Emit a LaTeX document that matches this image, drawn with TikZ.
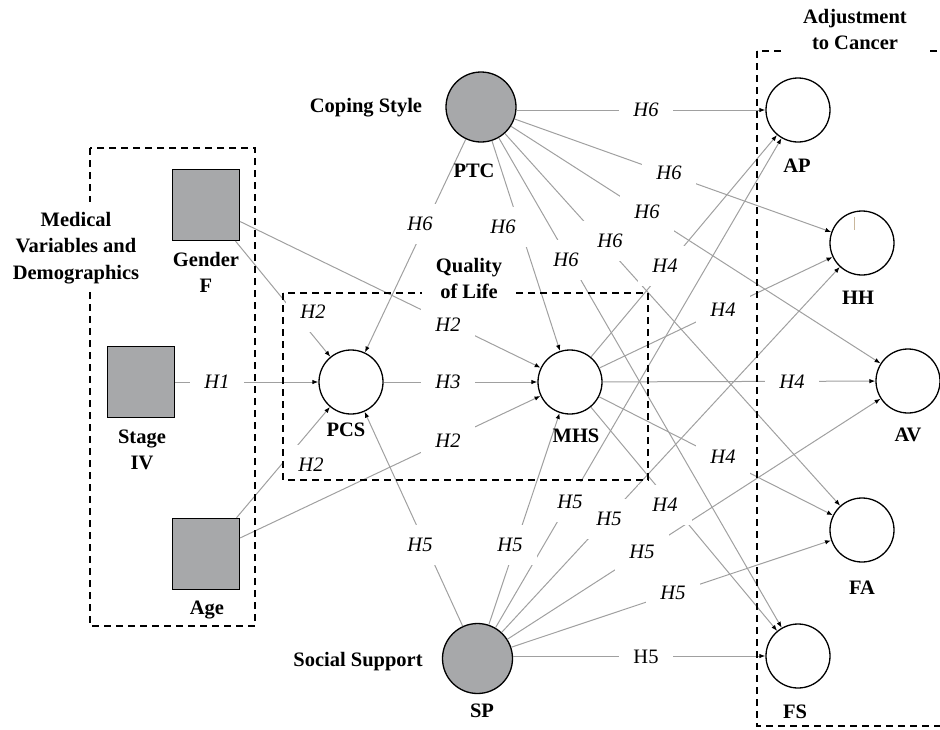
\documentclass[tikz,border=0pt]{standalone}
\usepackage{fontspec}
\setmainfont{Liberation Serif}
\usetikzlibrary{arrows.meta}
\definecolor{edgegray}{HTML}{A0A0A0}
\definecolor{nodefill}{HTML}{A7A8AA}
\definecolor{ticktan}{HTML}{C9B79C}
\newcommand{\mlines}[1]{\begin{tabular}[t]{@{}c@{}}#1\end{tabular}}
\begin{document}
\begin{tikzpicture}[x=1pt,y=-1pt,
  font=\fontsize{20.5}{26.5}\selectfont,
  latent/.style={circle,draw=black,line width=1.3pt,fill=white,inner sep=0pt,minimum size=64pt},
  exo/.style={circle,draw=black,line width=1.3pt,fill=nodefill,inner sep=0pt,minimum size=70pt},
  obs/.style={rectangle,draw=black,line width=1.3pt,fill=nodefill,inner sep=0pt,minimum width=67pt,minimum height=71pt},
  edge/.style={draw=edgegray,line width=1pt,-{Latex[length=6pt,width=4.5pt,color=black]}},
  hyp/.style={fill=white,inner sep=0pt,minimum width=54pt,minimum height=40pt,font=\fontsize{20.5}{24}\selectfont\itshape},
  hypup/.style={hyp,font=\fontsize{20.5}{24}\selectfont\upshape},
  vname/.style={font=\fontsize{20.5}{26.5}\selectfont\bfseries,anchor=base,inner sep=0pt},
  frame/.style={draw=black,line width=1.2pt,dash pattern=on 7pt off 5pt},
  title/.style={vname,fill=white,inner ysep=5pt}
]
\useasboundingbox (0,0) rectangle (940,729);

% ---- nodes
\node[obs] (gender) at (206,205) {};
\node[obs] (stage) at (141,382) {};
\node[obs] (age) at (206,554) {};
\node[latent] (pcs) at (351,382) {};
\node[latent] (mhs) at (570,382) {};
\node[exo] (ptc) at (481,107) {};
\node[exo] (sp) at (477.5,658.5) {};
\node[latent] (ap) at (798,110) {};
\node[latent] (hh) at (862,243) {};
\node[latent] (av) at (908,381) {};
\node[latent] (fa) at (862,530) {};
\node[latent] (fs) at (798,656) {};

\draw[ticktan,line width=1pt] (854,217) -- (854,230);

% ---- connectors
\draw[edge] (stage) -- (pcs);
\draw[edge] (gender) -- (pcs);
\draw[edge] (age) -- (pcs);
\draw[edge] (gender) -- (mhs);
\draw[edge] (age) -- (mhs);
\draw[edge] (pcs) -- (mhs);
\draw[edge] (ptc) -- (pcs);
\draw[edge] (ptc) -- (mhs);
\draw[edge] (ptc) -- (fs);
\draw[edge] (ptc) -- (fa);
\draw[edge] (ptc) -- (av);
\draw[edge] (ptc) -- (hh);
\draw[edge] (ptc.east |- ap.west) -- (ap.west);
\draw[edge] (sp) -- (pcs);
\draw[edge] (sp) -- (mhs);
\draw[edge] (sp) -- (ap);
\draw[edge] (sp) -- (hh);
\draw[edge] (sp) -- (av);
\draw[edge] (sp) -- (fa);
\draw[edge] (sp.east |- fs.west) -- (fs.west);
\draw[edge] (mhs) -- (ap);
\draw[edge] (mhs) -- (hh);
\draw[edge] (mhs) -- (av);
\draw[edge] (mhs) -- (fa);
\draw[edge] (mhs) -- (fs);

% ---- hypothesis labels
\node[hyp] (l1) at (217,382) {H1};
\node[hyp] (l2a) at (313,312) {H2};
\node[hyp] (l2b) at (311,465) {H2};
\node[hyp] (l2c) at (448,325) {H2};
\node[hyp] (l2d) at (448,441) {H2};
\node[hyp] (l3) at (448,382) {H3};
\node[hyp] (l6a) at (420,224) {H6};
\node[hyp] (l6b) at (503,227) {H6};
\node[hyp] (l6c) at (566,260) {H6};
\node[hyp] (l6d) at (610,241) {H6};
\node[hyp] (l6e) at (647,212) {H6};
\node[hyp] (l6f) at (669,173) {H6};
\node[hyp] (l6g) at (646,110) {H6};
\node[hyp] (l5a) at (420,545) {H5};
\node[hyp] (l5b) at (510,545) {H5};
\node[hyp] (l5c) at (570,502) {H5};
\node[hyp] (l5d) at (609,519) {H5};
\node[hyp] (l5e) at (642,552) {H5};
\node[hyp] (l5f) at (673,593) {H5};
\node[hypup] (l5g) at (646,657) {H5};
\node[hyp] (l4a) at (665,266) {H4};
\node[hyp] (l4b) at (723,310) {H4};
\node[hyp] (l4c) at (792,382) {H4};
\node[hyp] (l4d) at (723,457) {H4};
\node[hyp] (l4e) at (665,505) {H4};

% ---- dashed frames
\draw[frame] (90,148) rectangle (255,626);
\draw[frame] (283,293) rectangle (648,480);
\draw[frame] (757,51) rectangle (970,726);

% ---- group titles
\node[title,inner xsep=6pt] (tmed) at (76,226) {\mlines{Medical\\Variables and\\Demographics}};
\node[title,inner xsep=14pt] (tqol) at (469,272) {\mlines{Quality\\of Life}};
\node[title,inner xsep=19pt] (tadj) at (855,23) {\mlines{Adjustment\\to Cancer}};
\node[vname] (tcop) at (366,112) {Coping Style};
\node[vname] (tsoc) at (358,666) {Social Support};

% ---- variable names
\node[vname] (ngen) at (206,266) {\mlines{Gender\\F}};
\node[vname] (nsta) at (142,443) {\mlines{Stage\\IV}};
\node[vname] (nage) at (207,614) {Age};
\node[vname] (npcs) at (346,436) {PCS};
\node[vname] (nmhs) at (576,442) {MHS};
\node[vname] (nptc) at (474,177) {PTC};
\node[vname] (nsp) at (482,717) {SP};
\node[vname] (nap) at (797,172) {AP};
\node[vname] (nhh) at (858,304) {HH};
\node[vname] (nav) at (908,441) {AV};
\node[vname] (nfa) at (862,594) {FA};
\node[vname] (nfs) at (795,718) {FS};
\end{tikzpicture}
\end{document}
